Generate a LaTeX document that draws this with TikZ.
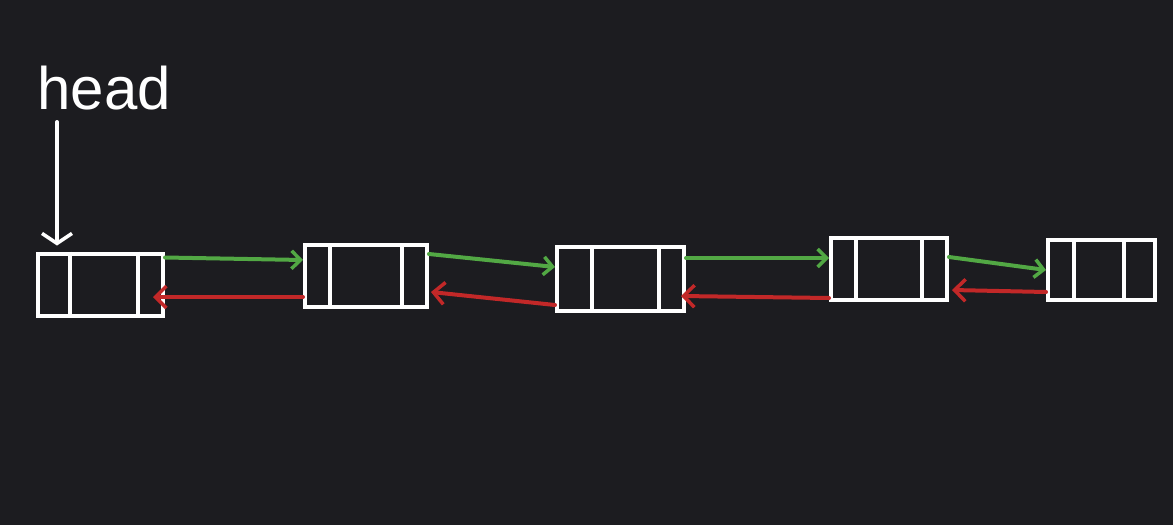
\documentclass[tikz,border=0pt]{standalone}
\usepackage{fontspec}
\setmainfont{Liberation Sans}
\usetikzlibrary{arrows.meta}
\definecolor{bg}{HTML}{1C1C20}
\definecolor{lgreen}{HTML}{52A844}
\definecolor{lred}{HTML}{C22828}
\tikzset{
  nodebox/.style={draw=white, line width=4pt, rectangle, inner sep=0pt},
  divider/.style={draw=white, line width=4pt},
  nextarr/.style={draw=lgreen, line width=4pt, line cap=round, -{Straight Barb[length=9pt,width=18pt,line width=3.5pt]}},
  prevarr/.style={draw=lred, line width=4pt, line cap=round, -{Straight Barb[length=11pt,width=22pt,line width=3.5pt]}},
  headarr/.style={draw=white, line width=4pt, line cap=round, -{Straight Barb[length=10pt,width=30pt,line width=3.5pt]}},
}
\begin{document}
\begin{tikzpicture}[x=1pt,y=-1pt]
\fill[bg] (0,0) rectangle (1173,525);
\useasboundingbox (0,0) rectangle (1173,525);

% head label
\node[white, font=\fontsize{60}{60}\selectfont, anchor=west] (head) at (34,88) {head};

% list nodes
\node[nodebox, minimum width=125pt, minimum height=62pt] (b1) at (100.5,284.5) {};
\node[nodebox, minimum width=122pt, minimum height=62pt] (b2) at (366,276) {};
\node[nodebox, minimum width=127pt, minimum height=64pt] (b3) at (620.5,279) {};
\node[nodebox, minimum width=116pt, minimum height=62pt] (b4) at (889,269) {};
\node[nodebox, minimum width=107pt, minimum height=60pt] (b5) at (1101.5,270) {};

% dividers
\draw[divider] ([xshift=34pt]b1.north west) -- ([xshift=34pt]b1.south west);
\draw[divider] ([xshift=-27pt]b1.north east) -- ([xshift=-27pt]b1.south east);
\draw[divider] ([xshift=27pt]b2.north west) -- ([xshift=27pt]b2.south west);
\draw[divider] ([xshift=-27pt]b2.north east) -- ([xshift=-27pt]b2.south east);
\draw[divider] ([xshift=37pt]b3.north west) -- ([xshift=37pt]b3.south west);
\draw[divider] ([xshift=-27pt]b3.north east) -- ([xshift=-27pt]b3.south east);
\draw[divider] ([xshift=27pt]b4.north west) -- ([xshift=27pt]b4.south west);
\draw[divider] ([xshift=-27pt]b4.north east) -- ([xshift=-27pt]b4.south east);
\draw[divider] ([xshift=28pt]b5.north west) -- ([xshift=28pt]b5.south west);
\draw[divider] ([xshift=-33pt]b5.north east) -- ([xshift=-33pt]b5.south east);

% head pointer
\coordinate (headtail) at (57,122);
\draw[headarr] (headtail) -- ([xshift=21pt,yshift=6pt]b1.north west);

% next pointers (green)
\draw[nextarr] ([yshift=27pt]b1.east) -- ([yshift=16pt]b2.west);
\draw[nextarr] ([yshift=22pt]b2.east) -- ([yshift=12pt]b3.west);
\draw[nextarr] ([yshift=21pt]b3.east) -- ([yshift=11pt]b4.west);
\draw[nextarr] ([yshift=12pt]b4.east) -- ([yshift=0pt]b5.west);

% prev pointers (red)
\draw[prevarr] ([yshift=-21pt]b2.west) -- ([xshift=-12pt,yshift=-12.5pt]b1.east);
\draw[prevarr] ([yshift=-26pt]b3.west) -- ([xshift=2pt,yshift=-16pt]b2.east);
\draw[prevarr] ([yshift=-29pt]b4.west) -- ([xshift=-5pt,yshift=-17pt]b3.east);
\draw[prevarr] ([yshift=-22pt]b5.west) -- ([xshift=3pt,yshift=-21pt]b4.east);
\end{tikzpicture}
\end{document}
